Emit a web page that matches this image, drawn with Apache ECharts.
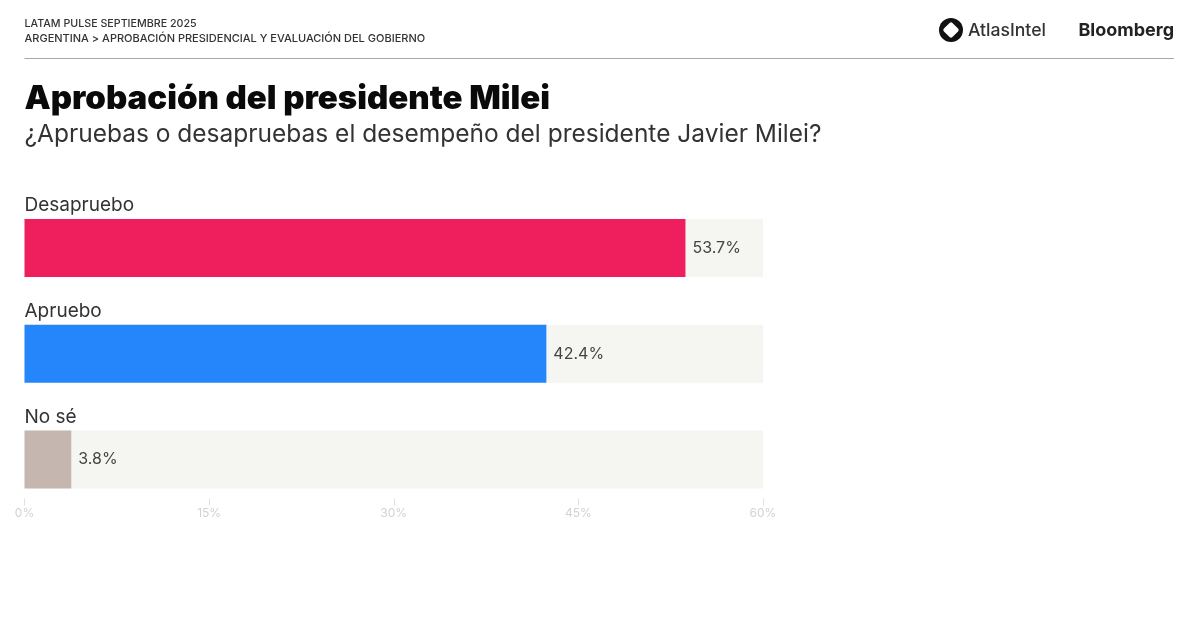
<!DOCTYPE html>
<html>
<head>
<meta charset="UTF-8">
<style>
    html, body { margin: 0; padding: 0; background: #fff; }
    #chart { width: 1200px; height: 630px; }
</style>
<script src="https://cdn.jsdelivr.net/npm/echarts@6/dist/echarts.min.js"></script>
</head>
<body>
<div id="chart"></div>
<script>
    const categories = ['Desapruebo', 'Apruebo', 'No sé'];
    const values = [53.7, 42.4, 3.8];
    const barColors = ['#ef1f5e', '#2585fb', '#c5b7af'];
    const axisTicks = [0, 15, 30, 45, 60];

    const headFont = 'Inter';
    const chart = echarts.init(document.getElementById('chart'));

    function headText(x, y, text, size, weight, color, align) {
        return {
            type: 'text', x: x, y: y,
            style: {text: text, font: weight + ' ' + size + 'px ' + headFont, fill: color, align: align || 'left', verticalAlign: 'middle'}
        };
    }

    chart.setOption({
        backgroundColor: '#fff',
        animation: false,
        grid: {left: 24.5, right: 437, top: 195, bottom: 117.5},
        xAxis: {
            type: 'value',
            min: axisTicks[0],
            max: axisTicks[axisTicks.length - 1],
            interval: 15,
            offset: -14,
            splitLine: {show: false},
            axisLine: {show: false},
            axisTick: {show: true, length: 7, lineStyle: {color: '#e2e2e0'}},
            axisLabel: {
                color: '#d2d2d0', fontFamily: 'Inter', fontSize: 12, margin: 9,
                formatter: '{value}%'
            }
        },
        yAxis: {
            type: 'category',
            inverse: true,
            data: categories,
            axisLine: {show: false},
            axisTick: {show: false},
            axisLabel: {show: false}
        },
        series: [{
            type: 'bar',
            barWidth: 58,
            showBackground: true,
            backgroundStyle: {color: '#f5f5f2'},
            data: values.map(function (v, i) {
                return {value: v, itemStyle: {color: barColors[i]}};
            }),
            label: {
                show: true, position: 'right', distance: 7,
                color: '#444', fontFamily: 'Inter', fontSize: 16,
                formatter: function (p) { return p.value.toFixed(1) + '%'; }
            }
        }, {
            // invisible copy, only carries the category names above the bars
            type: 'bar',
            barWidth: 58,
            barGap: '-100%',
            data: values,
            itemStyle: {color: 'transparent'},
            label: {
                show: true, position: 'insideLeft', distance: 0, offset: [0, -42.5],
                color: '#333', fontFamily: 'Inter', fontSize: 19,
                formatter: '{b}'
            }
        }],
        graphic: [
            headText(24.5, 23.5, 'LATAM PULSE SEPTIEMBRE 2025', 10.7, 500, '#333'),
            headText(24.5, 39, 'ARGENTINA > APROBACIÓN PRESIDENCIAL Y EVALUACIÓN DEL GOBIERNO', 11, 500, '#333'),
            {type: 'line', shape: {x1: 24.5, y1: 58.5, x2: 1174, y2: 58.5}, style: {stroke: '#a8a8a8', lineWidth: 1.2}},
            headText(24.5, 99, 'Aprobación del presidente Milei', 33, 900, '#0a0a0a'),
            headText(24.5, 135, '¿Apruebas o desapruebas el desempeño del presidente Javier Milei?', 24.5, 400, '#333'),
            // logos
            {type: 'circle', shape: {cx: 951, cy: 30, r: 12}, style: {fill: '#111'}},
            {type: 'rect', x: 951, y: 30, rotation: Math.PI / 4, shape: {x: -6, y: -6, width: 12, height: 12, r: 2}, style: {fill: '#fff'}},
            headText(968, 30.5, 'AtlasIntel', 17.6, 500, '#333'),
            headText(1174, 30.5, 'Bloomberg', 18, 700, '#222', 'right')
        ]
    });
</script>
</body>
</html>
